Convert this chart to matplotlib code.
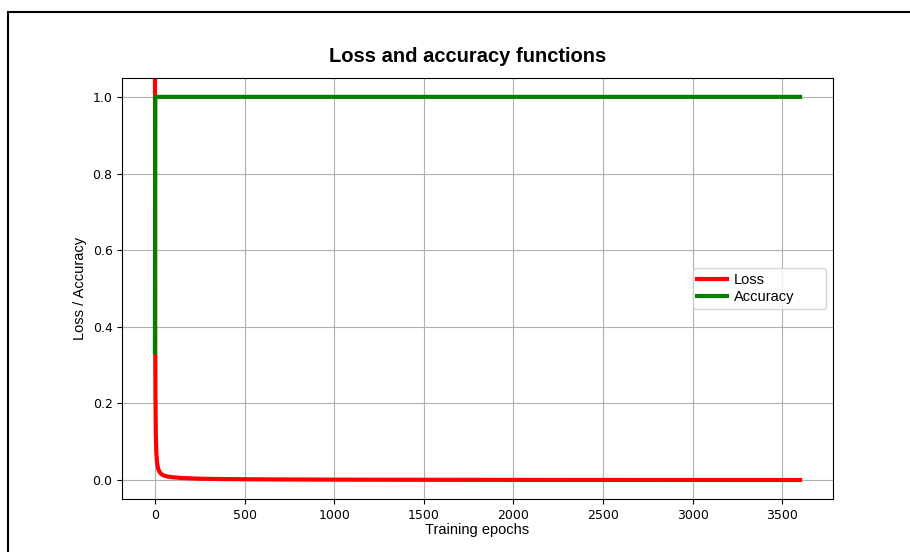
#%% Imports

import matplotlib
matplotlib.use('Agg')

import matplotlib.pyplot as plt
import matplotlib.patches as patches


#%% Data

epochs = [0, 1, 2, 3, 5, 8, 12, 18, 25, 35, 50, 75, 100, 150, 250, 400,
          600, 1000, 1500, 2000, 2500, 3000, 3600]
loss = [1.40, 0.60, 0.33, 0.22, 0.12, 0.07, 0.045, 0.030, 0.022, 0.016,
        0.012, 0.009, 0.0075, 0.0055, 0.0038, 0.0027, 0.0020, 0.0013,
        0.0009, 0.0007, 0.0006, 0.0005, 0.0004]
accuracy = [0.333, 0.667, 1.0, 1.0, 1.0, 1.0, 1.0, 1.0, 1.0, 1.0, 1.0,
            1.0, 1.0, 1.0, 1.0, 1.0, 1.0, 1.0, 1.0, 1.0, 1.0, 1.0, 1.0]

xticks = [0, 500, 1000, 1500, 2000, 2500, 3000, 3500]
yticks = [0.0, 0.2, 0.4, 0.6, 0.8, 1.0]


#%% Figure

W, H = 910, 552
dpi = 100
fig = plt.figure(figsize=(W / dpi, H / dpi), dpi=dpi)

left, right, top, bottom = 122.3, 832.7, 77.7, 499.3
ax = fig.add_axes([left / W, 1 - bottom / H, (right - left) / W, (bottom - top) / H])

ax.plot(epochs, loss, color='r', linewidth=3, label='Loss')
ax.plot(epochs, accuracy, color='g', linewidth=3, label='Accuracy')

ax.set_xlim(-182, 3782)
ax.set_ylim(-0.05, 1.05)
ax.set_xticks(xticks)
ax.set_yticks(yticks)
ax.tick_params(labelsize=9)
ax.grid(True, color='#b0b0b0', linewidth=0.8)

sans = ['Liberation Sans', 'DejaVu Sans']
ax.set_xlabel('Training epochs', family=sans, fontsize=10.5, labelpad=1)
ax.set_ylabel('Loss / Accuracy', family=sans, fontsize=10.5)

# legend box stretched to the width seen in the reference
lx0 = (693 - left) / (right - left)
lx1 = (826 - left) / (right - left)
leg = ax.legend(loc='center', bbox_to_anchor=(lx0, 0.3, lx1 - lx0, 0.4),
                mode='expand', borderaxespad=0, borderpad=0.3,
                labelspacing=0.25, handlelength=2.0, handletextpad=0.5,
                prop={'family': sans, 'size': 10.5})

# title is centred on the original (wider) figure, not on the axes
fig.text(467.5 / W, 1 - 57 / H, 'Loss and accuracy functions', family=sans,
         fontsize=14.5, fontweight='bold', ha='center', va='center')

# black frame of the original figure, cut off on the right and bottom
frame = patches.Rectangle((7.5 / W, -0.1), 3.0, 1 - 12 / H + 0.1,
                          transform=fig.transFigure, fill=False,
                          edgecolor='black', linewidth=1.5, clip_on=False)
fig.patches.append(frame)

plt.savefig('out.png', dpi=dpi)
